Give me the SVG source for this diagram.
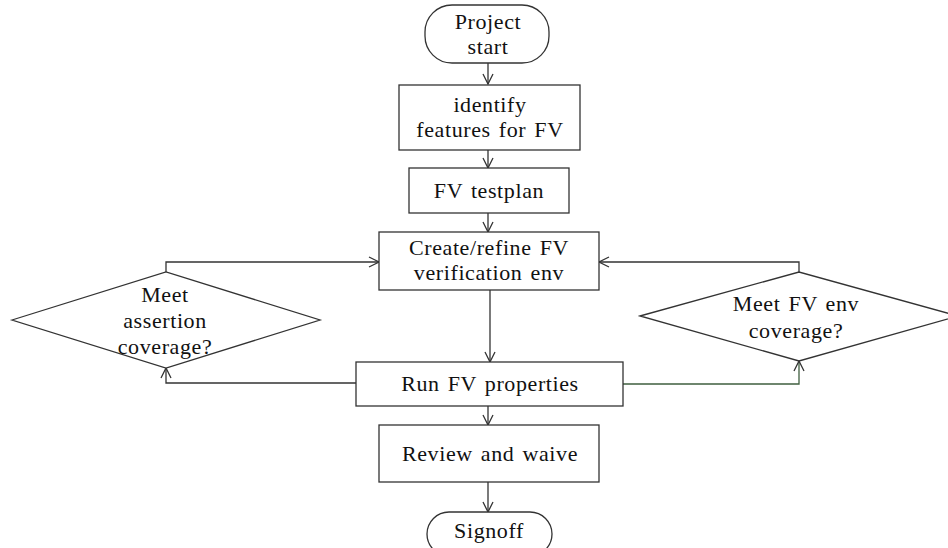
<svg xmlns="http://www.w3.org/2000/svg" width="948" height="548" viewBox="0 0 948 548">
<style>
.s{fill:#fff;stroke:#333;stroke-width:1.3}
.c{fill:none;stroke:#333;stroke-width:1.3}
.g{fill:none;stroke:#3f5f3f;stroke-width:1.3}
text{font-family:"Liberation Serif","Times New Roman",serif;font-size:22px;letter-spacing:0.6px;word-spacing:2px;fill:#111;text-anchor:middle}
</style>
<defs>
<marker id="a" viewBox="0 0 12 12" refX="11" refY="6" markerWidth="12" markerHeight="12" markerUnits="userSpaceOnUse" orient="auto">
<polyline points="1,1 11,6 1,11" fill="none" stroke="#333" stroke-width="1.3"/>
</marker>
</defs>
<rect width="948" height="548" fill="#fff"/>
<g id="connectors">
<line class="c" x1="488" y1="63" x2="488" y2="84" marker-end="url(#a)"/>
<line class="c" x1="488" y1="150" x2="488" y2="168" marker-end="url(#a)"/>
<line class="c" x1="488" y1="213" x2="488" y2="232" marker-end="url(#a)"/>
<line class="c" x1="490" y1="290" x2="490" y2="362" marker-end="url(#a)"/>
<line class="c" x1="488" y1="406" x2="488" y2="425" marker-end="url(#a)"/>
<line class="c" x1="488" y1="482" x2="488" y2="512" marker-end="url(#a)"/>
<polyline class="c" points="166,272 166,262 379,262" marker-end="url(#a)"/>
<polyline class="c" points="356,383 166,383 166,368" marker-end="url(#a)"/>
<polyline class="c" points="799,272 799,262 599,262" marker-end="url(#a)"/>
<polyline class="g" points="623,384 799,384 799,361" marker-end="url(#a)"/>
</g>
<g id="start">
<rect class="s" x="425" y="5" width="124" height="58" rx="27"/>
<text x="488" y="29">Project</text>
<text x="488" y="54">start</text>
</g>
<g id="identify">
<rect class="s" x="399" y="85" width="181" height="65"/>
<text x="490" y="112">identify</text>
<text x="490" y="137">features  for FV</text>
</g>
<g id="testplan">
<rect class="s" x="409" y="168" width="160" height="45"/>
<text x="489" y="198">FV testplan</text>
</g>
<g id="create">
<rect class="s" x="379" y="232" width="220" height="58"/>
<text x="489" y="255">Create/refine  FV</text>
<text x="489" y="280">verification  env</text>
</g>
<g id="assertion">
<polygon class="s" points="12,320 166,272 320,320 166,368"/>
<text x="165" y="302">Meet</text>
<text x="165" y="328">assertion</text>
<text x="165" y="354">coverage?</text>
</g>
<g id="envcov">
<polygon class="s" points="640,316 799,272 958,316 799,361"/>
<text x="796" y="311">Meet FV env</text>
<text x="796" y="338">coverage?</text>
</g>
<g id="run">
<rect class="s" x="356" y="362" width="267" height="44"/>
<text x="490" y="391">Run FV properties</text>
</g>
<g id="review">
<rect class="s" x="379" y="425" width="220" height="57"/>
<text x="490" y="461">Review  and waive</text>
</g>
<g id="signoff">
<rect class="s" x="427" y="512" width="125" height="44" rx="22"/>
<text x="489" y="538">Signoff</text>
</g>
</svg>
